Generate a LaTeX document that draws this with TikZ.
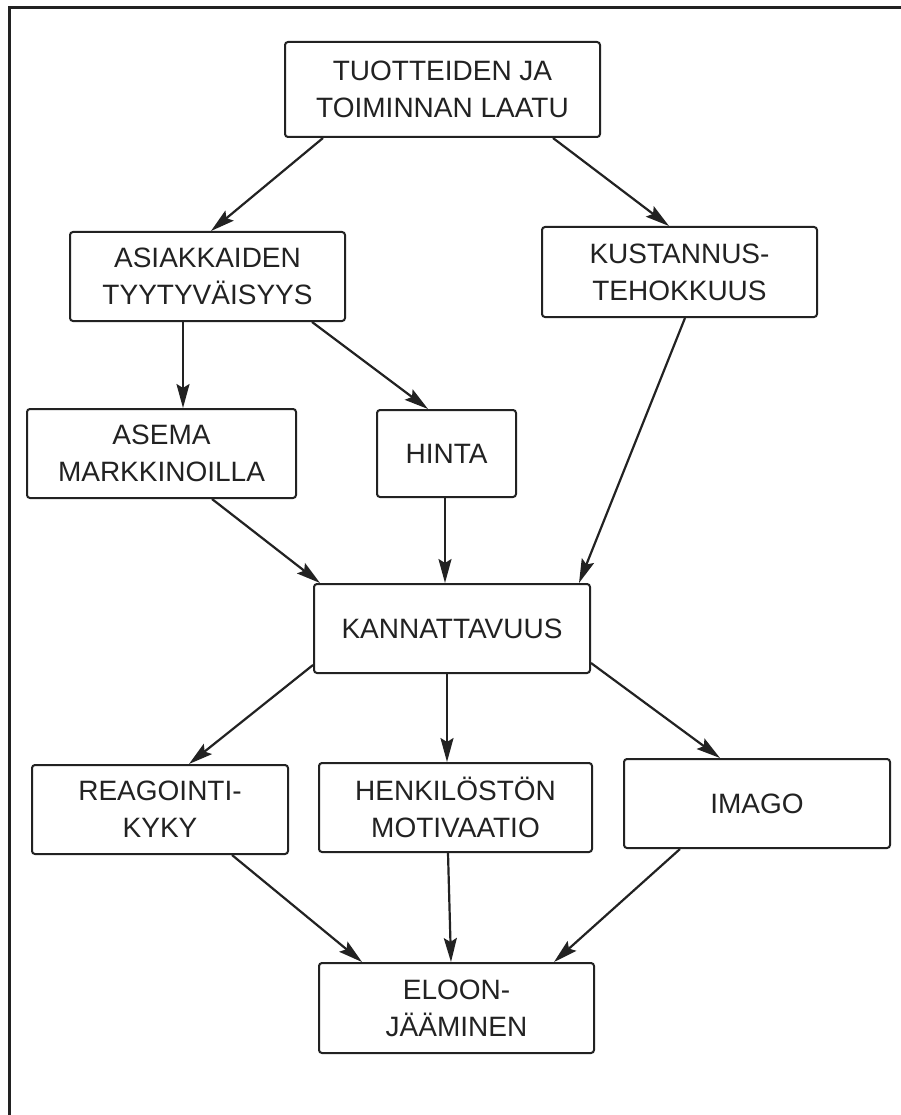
\documentclass[tikz,border=0pt]{standalone}
\usepackage{fontspec}
\setmainfont{Liberation Sans}
\usetikzlibrary{arrows.meta}
\definecolor{ink}{HTML}{222222}
\tikzset{
  box/.style={draw=ink, line width=2pt, rounded corners=3pt, fill=white,
    align=center, inner sep=0pt, text=ink,
    font=\fontsize{28}{37}\selectfont},
  link/.style={draw=ink, line width=2.2pt,
    -{Stealth[length=24pt,width=13pt,inset=4pt]}},
  frameline/.style={draw=ink, line width=3pt}
}
\begin{document}
\begin{tikzpicture}[x=1pt,y=-1pt]
\useasboundingbox (0,0) rectangle (900,1115);
\fill[white] (0,0) rectangle (900,1115);
% outer frame (open on the right and at the bottom)
\coordinate (fbl) at (9,1116);
\coordinate (ftl) at (9,8);
\coordinate (ftr) at (901,8);
\draw[frameline] (fbl) -- (ftl) -- (ftr);

% boxes
\node[box, minimum width=315pt, minimum height=95pt] (laatu) at (442.5,89.5) {TUOTTEIDEN JA\\TOIMINNAN LAATU};
\node[box, minimum width=275pt, minimum height=89pt] (asiak) at (207.5,276.5) {ASIAKKAIDEN\\TYYTYVÄISYYS};
\node[box, minimum width=275pt, minimum height=90pt] (kust) at (679.5,272) {KUSTANNUS-\\TEHOKKUUS};
\node[box, minimum width=269pt, minimum height=89pt] (asema) at (161.5,453.5) {ASEMA\\MARKKINOILLA};
\node[box, minimum width=139pt, minimum height=87pt] (hinta) at (446.5,453.5) {HINTA};
\node[box, minimum width=276pt, minimum height=89pt] (kann) at (452,628.5) {KANNATTAVUUS};
\node[box, minimum width=256pt, minimum height=89pt] (reag) at (160,809.5) {REAGOINTI-\\KYKY};
\node[box, minimum width=273pt, minimum height=89pt] (henk) at (455.5,807.5) {HENKILÖSTÖN\\MOTIVAATIO};
\node[box, minimum width=266pt, minimum height=89pt] (imago) at (757,803.5) {IMAGO};
\node[box, minimum width=275pt, minimum height=90pt] (eloon) at (456.5,1008) {ELOON-\\JÄÄMINEN};

% connectors
\draw[link] ([xshift=39pt]laatu.south west) -- ([xshift=3.5pt]asiak.north);
\draw[link] ([xshift=110.5pt]laatu.south) -- ([xshift=-10.5pt]kust.north);
\draw[link] ([xshift=-24.5pt]asiak.south) -- ([xshift=21.5pt]asema.north);
\draw[link] ([xshift=104.5pt]asiak.south) -- ([xshift=-18.5pt]hinta.north);
\draw[link] ([xshift=50.5pt]asema.south) -- ([xshift=7pt]kann.north west);
\draw[link] ([xshift=-1.5pt]hinta.south) -- ([xshift=-7pt]kann.north);
\draw[link] ([xshift=5.5pt]kust.south) -- ([xshift=-12pt]kann.north east);
\draw[link] ([yshift=9pt]kann.south west) -- ([xshift=29pt]reag.north);
\draw[link] ([xshift=-5pt]kann.south) -- ([xshift=-8.5pt]henk.north);
\draw[link] ([yshift=11pt]kann.south east) -- ([xshift=-37pt]imago.north);
\draw[link] ([xshift=72pt]reag.south) -- ([xshift=44pt]eloon.north west);
\draw[link] ([xshift=-7.5pt]henk.south) -- ([xshift=-5.5pt]eloon.north);
\draw[link] ([xshift=-77pt]imago.south) -- ([xshift=97.5pt]eloon.north);
\end{tikzpicture}
\end{document}
